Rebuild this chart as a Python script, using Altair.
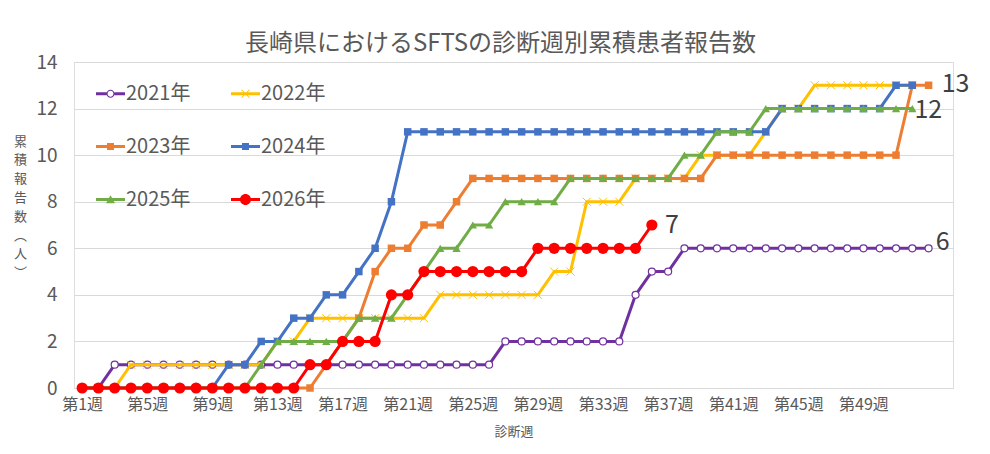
import altair as alt
import pandas as pd

FONT = "Liberation Sans Narrow, Noto Sans CJK JP, sans-serif"
CJK = "Noto Sans CJK JP, sans-serif"
GRAY = "#595959"

title_text = "長崎県におけるSFTSの診断週別累積患者報告数"
x_title = "診断週"
y_title = ["累", "積", "報", "告", "数", "︵", "人", "︶"]

years = ["2021年", "2022年", "2023年", "2024年", "2025年", "2026年"]
colors = ["#7030A0", "#FFC000", "#ED7D31", "#4472C4", "#70AD47", "#FF0000"]

x_label_weeks = [1, 5, 9, 13, 17, 21, 25, 29, 33, 37, 41, 45, 49]
y_ticks = [0, 2, 4, 6, 8, 10, 12, 14]

y2021 = [0, 0, 1, 1, 1, 1, 1, 1, 1, 1,
         1, 1, 1, 1, 1, 1, 1, 1, 1, 1,
         1, 1, 1, 1, 1, 1, 2, 2, 2, 2,
         2, 2, 2, 2, 4, 5, 5, 6, 6, 6,
         6, 6, 6, 6, 6, 6, 6, 6, 6, 6,
         6, 6, 6]
y2022 = [0, 0, 0, 1, 1, 1, 1, 1, 1, 1,
         1, 1, 2, 2, 3, 3, 3, 3, 3, 3,
         3, 3, 4, 4, 4, 4, 4, 4, 4, 5,
         5, 8, 8, 8, 9, 9, 9, 9, 10, 10,
         10, 10, 11, 12, 12, 13, 13, 13, 13, 13,
         13, 13]
y2023 = [0, 0, 0, 0, 0, 0, 0, 0, 0, 0,
         0, 0, 0, 0, 0, 1, 2, 3, 5, 6,
         6, 7, 7, 8, 9, 9, 9, 9, 9, 9,
         9, 9, 9, 9, 9, 9, 9, 9, 9, 10,
         10, 10, 10, 10, 10, 10, 10, 10, 10, 10,
         10, 13, 13]
y2024 = [0, 0, 0, 0, 0, 0, 0, 0, 0, 1,
         1, 2, 2, 3, 3, 4, 4, 5, 6, 8,
         11, 11, 11, 11, 11, 11, 11, 11, 11, 11,
         11, 11, 11, 11, 11, 11, 11, 11, 11, 11,
         11, 11, 11, 12, 12, 12, 12, 12, 12, 12,
         13, 13]
y2025 = [0, 0, 0, 0, 0, 0, 0, 0, 0, 0,
         0, 1, 2, 2, 2, 2, 2, 3, 3, 3,
         4, 5, 6, 6, 7, 7, 8, 8, 8, 8,
         9, 9, 9, 9, 9, 9, 9, 10, 10, 11,
         11, 11, 12, 12, 12, 12, 12, 12, 12, 12,
         12, 12]
y2026 = [0, 0, 0, 0, 0, 0, 0, 0, 0, 0,
         0, 0, 0, 0, 1, 1, 2, 2, 2, 4,
         4, 5, 5, 5, 5, 5, 5, 5, 6, 6,
         6, 6, 6, 6, 6, 7]

series = [y2021, y2022, y2023, y2024, y2025, y2026]

rows = []
for yr, vals in zip(years, series):
    for i, v in enumerate(vals):
        rows.append({"year": yr, "week": i + 1, "value": v})
df = pd.DataFrame(rows)

# end-of-series data labels (year, last point)
label_years = ["2023年", "2025年", "2021年", "2026年"]
lab_rows = []
for yr in label_years:
    vals = series[years.index(yr)]
    lab_rows.append({"year": yr, "week": len(vals), "value": vals[-1]})
labels_df = pd.DataFrame(lab_rows)

# ---- styles ----
marker_styles = {
    "2021年": dict(shape="circle", size=49, filled=False, fill="white", strokeWidth=1.2),
    "2022年": dict(shape="M-1,-1L1,1M-1,1L1,-1", size=64, filled=False, strokeWidth=1),
    "2023年": dict(shape="square", size=56, filled=True),
    "2024年": dict(shape="square", size=56, filled=True),
    "2025年": dict(shape="triangle-up", size=70, filled=True),
    "2026年": dict(shape="circle", size=125, filled=True),
}

# legend symbols: line + marker, drawn as filled paths
LINE = "M-1,-0.1H1V0.1H-1Z"
legend_paths = [
    "M-1,-0.1H-0.27V0.1H-1Z M0.27,-0.1H1V0.1H0.27Z "
    "M0.28,0A0.28,0.28 0 1,1 -0.28,0A0.28,0.28 0 1,1 0.28,0Z "
    "M0.2,0A0.2,0.2 0 1,0 -0.2,0A0.2,0.2 0 1,0 0.2,0Z",
    LINE + " M-0.252,-0.3L0.3,0.252L0.252,0.3L-0.3,-0.252Z"
    " M-0.3,0.252L0.252,-0.3L0.3,-0.252L-0.252,0.3Z",
    LINE + " M-0.24,-0.24H0.24V0.24H-0.24Z",
    LINE + " M-0.24,-0.24H0.24V0.24H-0.24Z",
    LINE + " M0,-0.3L0.31,0.25H-0.31Z",
    LINE + " M0.38,0A0.38,0.38 0 1,1 -0.38,0A0.38,0.38 0 1,1 0.38,0Z",
]

legend = alt.Legend(
    title=None, orient="none", legendX=22, legendY=17, columns=2,
    direction="horizontal",
    symbolSize=841, symbolStrokeWidth=0, symbolOpacity=1, labelFont=FONT,
    labelFontSize=20, labelColor=GRAY, labelOffset=1, columnPadding=40,
    rowPadding=28, padding=0,
)

x_axis = alt.Axis(values=x_label_weeks, labelExpr="'第' + datum.value + '週'",
                  grid=False, domain=False, ticks=False, labelFont=FONT,
                  labelFontSize=16, labelColor=GRAY, labelPadding=8,
                  labelFlush=False, title=x_title, titleFont=CJK,
                  titleFontSize=13, titleFontWeight="normal", titleColor=GRAY,
                  titleY=43, titleBaseline="middle")
y_axis = alt.Axis(values=y_ticks, grid=True, gridColor="#D9D9D9", gridWidth=1,
                  domain=False, ticks=False, labelFont=FONT, labelFontSize=19,
                  labelColor=GRAY, labelPadding=17, labelFlush=False,
                  title=y_title, titleAngle=0, titleX=-54, titleY=73,
                  titleBaseline="top", titleAlign="center", titleFont=CJK,
                  titleFontSize=13, titleLineHeight=18.8,
                  titleFontWeight="normal", titleColor=GRAY)

x_enc = alt.X("week:Q", scale=alt.Scale(domain=[0.5, 54.5], nice=False, zero=False),
              axis=x_axis)
y_enc = alt.Y("value:Q", scale=alt.Scale(domain=[0, 14], nice=False, zero=True),
              axis=y_axis)
color_scale = alt.Scale(domain=years, range=colors)

layers = []
for yr, col in zip(years, colors):
    base = alt.Chart().transform_filter(alt.datum.year == yr)
    line = base.mark_line(strokeWidth=3, strokeJoin="round", strokeCap="round",
                          color=col).encode(x=x_enc, y=y_enc)
    ms = dict(marker_styles[yr])
    filled = ms.pop("filled")
    if filled:
        pts = base.mark_point(filled=True, opacity=1, color=col, **ms)
    else:
        pts = base.mark_point(filled=False, opacity=1, stroke=col, **ms)
    pts = pts.encode(x=x_enc, y=y_enc)
    layers += [line, pts]

# legend-only layer (no marks drawn)
legend_layer = alt.Chart().transform_filter("false").mark_point(
    filled=True, opacity=1, size=841
).encode(
    x=x_enc, y=y_enc,
    color=alt.Color("year:N", scale=color_scale, legend=legend),
    shape=alt.Shape("year:N", scale=alt.Scale(domain=years, range=legend_paths),
                    legend=legend),
)
layers.append(legend_layer)

label_offsets = {"2023年": (27, -1), "2025年": (16, 1), "2021年": (14, -6), "2026年": (20, 0)}
for yr in label_years:
    dx, dy = label_offsets[yr]
    t = alt.Chart(labels_df).transform_filter(alt.datum.year == yr).mark_text(
        dx=dx, dy=dy, font=FONT, fontSize=25, color="#404040",
        align="center", baseline="middle",
    ).encode(x=x_enc, y=y_enc, text=alt.Text("value:Q", format="d"))
    layers.append(t)

chart = alt.layer(*layers, data=df).properties(
    width=879, height=326,
    title=alt.TitleParams(text=title_text, font=FONT, fontSize=24,
                          fontWeight="normal", color=GRAY, anchor="middle",
                          dx=-13, offset=-3),
    padding={"left": 66, "top": 54, "right": 29, "bottom": 58},
    autosize=alt.AutoSizeParams(type="none"),
).configure_view(stroke=None).configure(background="white")

chart.save("out.html", embed_options={"renderer": "svg", "actions": False})
